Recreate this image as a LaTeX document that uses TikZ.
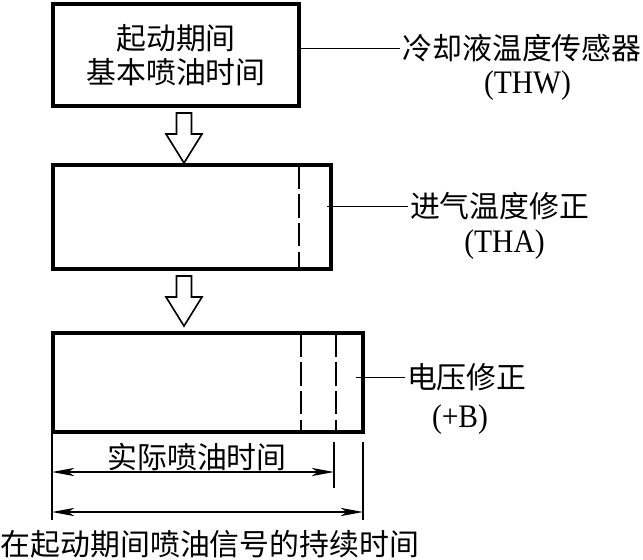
\documentclass[tikz,border=0pt]{standalone}
\usepackage{fontspec}
\setmainfont{Liberation Serif}[FakeStretch=0.9]
\newfontfamily\cjk{Noto Sans CJK SC}
\usepackage{tikz}
\usetikzlibrary{arrows.meta,calc}

\begin{document}
\begin{tikzpicture}[x=0.03cm, y=-0.03cm,
        box/.style={draw, line width=3.4pt, inner sep=0pt},
        hanzi/.style={font=\cjk\fontsize{25.5pt}{28.5pt}\selectfont, inner sep=2pt},
        latin/.style={font=\fontsize{28pt}{30pt}\selectfont, inner sep=0pt},
        thinline/.style={line width=1.1pt},
        dashline/.style={line width=1.4pt, dash pattern=on 20.4pt off 4.3pt},
        hollowarrow/.style={line width=1.4pt, fill=white, line join=miter},
        dimarrow/.style={line width=1.1pt, arrows={Stealth[length=19pt,width=7pt,inset=5pt]-Stealth[length=19pt,width=7pt,inset=5pt]}}]
        \useasboundingbox (0,0) rectangle (643,560);

        \node[box, minimum width=7.38cm, minimum height=3.06cm, align=center,
            font=\cjk\fontsize{25.5pt}{28.5pt}\selectfont] (start) at (176,55) {起动期间\\基本喷油时间};
        \node[box, minimum width=8.34cm, minimum height=3.12cm] (intake) at (192,217) {};
        \node[box, minimum width=9.3cm, minimum height=2.97cm] (volt) at (208,382.5) {};

        \draw[dashline] ($(intake.north east)+(-34,1.7)$) -- ($(intake.south east)+(-34,-1.7)$);
        \draw[dashline] ($(volt.north east)+(-64,1.7)$) -- ($(volt.south east)+(-64,-1.7)$);
        \draw[dashline] ($(volt.north east)+(-29,1.7)$) -- ($(volt.south east)+(-29,-1.7)$);

        \node[hanzi, anchor=west] (thw) at (400,48.5) {冷却液温度传感器};
        \node[latin] (thwcode) at (527.5,86) {(THW)};
        \node[hanzi, anchor=west] (tha) at (407.5,206.5) {进气温度修正};
        \node[latin] (thacode) at (504.5,245) {(THA)};
        \node[hanzi, anchor=west] (vb) at (404.5,377.5) {电压修正};
        \node[latin] (vbcode) at (460,419.5) {(+B)};

        \draw[thinline] (start.east |- thw.west) -- (thw.west);
        \draw[thinline] ($(intake.east |- tha.west)+(-6,0)$) -- (tha.west);
        \draw[thinline] ($(volt.east |- vb.west)+(-9,0)$) -- (vb.west);

        \coordinate (tip1) at ($(intake.north)+(-8,0)$);
        \coordinate (tip2) at ($(volt.north)+(-24,-5)$);
        \draw[hollowarrow] (tip1) -- ++(-18,-29) -- ++(10.5,0) -- ++(0,-21) -- ++(15,0) -- ++(0,21) -- ++(10.5,0) -- cycle;
        \draw[hollowarrow] (tip2) -- ++(-18,-29) -- ++(10.5,0) -- ++(0,-21) -- ++(15,0) -- ++(0,21) -- ++(10.5,0) -- cycle;

        \coordinate (ext0) at (52,520);
        \coordinate (ext1) at (334,442);
        \coordinate (ext2) at (363,442);
        \draw[thinline] (volt.south west -| ext0) -- (ext0);
        \draw[thinline] (ext1) -- ++(0,46);
        \draw[thinline] (ext2) -- ++(0,78);

        \coordinate (l1) at (52,472);
        \coordinate (r1) at (334,472);
        \coordinate (l2) at (52,512);
        \coordinate (r2) at (363,512);
        \draw[dimarrow] (l1) -- (r1);
        \draw[dimarrow] (l2) -- (r2);

        \node[hanzi] (actual) at (197,457) {实际喷油时间};
        \node[hanzi] (total) at (210,544.5) {在起动期间喷油信号的持续时间};
    \end{tikzpicture}
\end{document}
